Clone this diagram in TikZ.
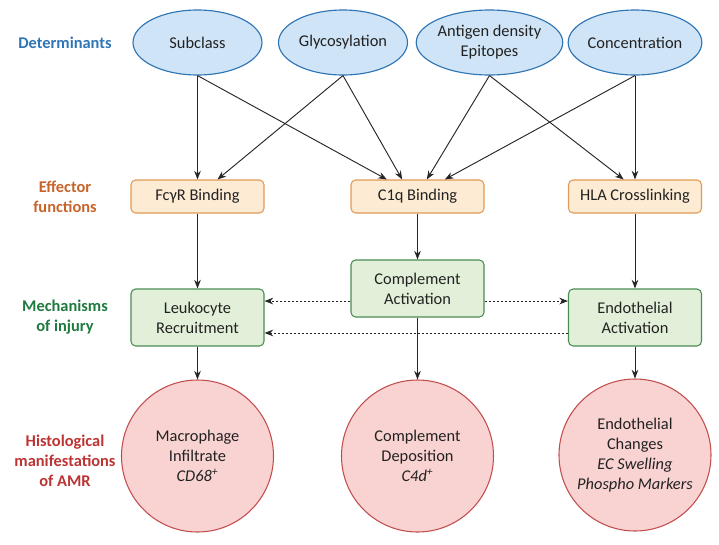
\documentclass[tikz,border=0pt]{standalone}
\usepackage{fontspec}
\setmainfont{Carlito}
\usetikzlibrary{shapes.geometric,arrows.meta}

\definecolor{detblue}{HTML}{2E75B6}
\definecolor{ellfill}{HTML}{CFE4F6}
\definecolor{effor}{HTML}{C8642A}
\definecolor{boxor}{HTML}{FDEBD3}
\definecolor{lineor}{HTML}{E09A55}
\definecolor{mechgr}{HTML}{1F7A40}
\definecolor{boxgr}{HTML}{E2F0D9}
\definecolor{linegr}{HTML}{4A8C53}
\definecolor{histrd}{HTML}{BC3333}
\definecolor{circrd}{HTML}{F9D3D1}
\definecolor{linerd}{HTML}{C24E4E}
\definecolor{txt}{HTML}{222222}

\tikzset{
  rowlabel/.style={font=\fontsize{12.3}{15}\selectfont\bfseries, align=center},
  determ/.style={ellipse, draw=detblue, fill=ellfill, line width=0.85pt, inner sep=0pt,
    minimum width=96.75pt, minimum height=48.75pt, align=center, text=txt,
    font=\fontsize{12.3}{15}\selectfont},
  effbox/.style={rectangle, rounded corners=3.5pt, draw=lineor, fill=boxor, line width=0.8pt,
    minimum width=99.75pt, minimum height=24.75pt, text=txt, font=\fontsize{12.3}{15}\selectfont},
  mechbox/.style={rectangle, rounded corners=3.5pt, draw=linegr, fill=boxgr, line width=0.8pt,
    minimum width=99.75pt, minimum height=42.75pt, align=center, text=txt,
    font=\fontsize{12.3}{15}\selectfont},
  histcirc/.style={circle, draw=linerd, fill=circrd, line width=0.8pt, minimum size=114pt,
    inner sep=0pt, align=center, text=txt, font=\fontsize{12.3}{15}\selectfont},
  arr/.style={-{Stealth[length=6.5pt,width=5pt]}, line width=0.7pt, draw=black!85},
  dotarr/.style={arr, dash pattern=on 1.5pt off 1.5pt}
}

\begin{document}
\begin{tikzpicture}[x=0.75pt,y=-0.75pt]
   \useasboundingbox (0,0) rectangle (719,544);

   \node[rowlabel, text=detblue] (lbldet) at (65,43) {Determinants};
   \node[rowlabel, text=effor] (lbleff) at (65,197) {Effector\\functions};
   \node[rowlabel, text=mechgr] (lblmech) at (65,317) {Mechanisms\\of injury};
   \node[rowlabel, text=histrd] (lblhist) at (65,461) {Histological\\manifestations\\of AMR};

   \node[determ] (subclass) at (197.5,42.5) {Subclass};
   \node[determ] (glyco) at (343,42.5) {Glycosylation};
   \node[determ] (antigen) at (489.5,42.5) {Antigen density\\Epitopes};
   \node[determ] (conc) at (635,42.5) {Concentration};

   \node[effbox] (fcr) at (197.5,196.5) {FcγR Binding};
   \node[effbox] (c1q) at (417.5,196.5) {C1q Binding};
   \node[effbox] (hla) at (635,196.5) {HLA Crosslinking};

   \node[mechbox] (leuk) at (197.5,317.5) {Leukocyte\\Recruitment};
   \node[mechbox] (compact) at (417.5,288.5) {Complement\\Activation};
   \node[mechbox] (endoact) at (635,317.5) {Endothelial\\Activation};

   \node[histcirc] (macro) at (197.5,456) {Macrophage\\Infiltrate\\\textit{CD68\textsuperscript{+}}};
   \node[histcirc] (compdep) at (417.5,456) {Complement\\Deposition\\\textit{C4d\textsuperscript{+}}};
   \node[histcirc] (endoch) at (635,455) {Endothelial\\Changes\\\textit{EC Swelling}\\\textit{Phospho Markers}};

   \draw[arr] (subclass.south) -- (subclass.south |- fcr.north);
   \draw[arr] (subclass.south) -- ([xshift=-23pt]c1q.north);
   \draw[arr] (glyco.south) -- ([xshift=15pt]fcr.north);
   \draw[arr] (glyco.south) -- ([xshift=-11.5pt]c1q.north);
   \draw[arr] (antigen.south) -- ([xshift=7pt]c1q.north);
   \draw[arr] (antigen.south) -- ([xshift=-8.5pt]hla.north);
   \draw[arr] (conc.south) -- ([xshift=20.5pt]c1q.north);
   \draw[arr] (conc.south) -- (hla.north);

   \draw[arr] (fcr) -- (leuk);
   \draw[arr] (c1q) -- (compact);
   \draw[arr] (hla) -- (endoact);

   \draw[dotarr] ([yshift=-9.4pt]compact.west) -- ([yshift=-9.4pt]compact.west -| leuk.east);
   \draw[dotarr] ([yshift=-9.4pt]compact.east) -- ([yshift=-9.4pt]compact.east -| endoact.west);
   \draw[dotarr] ([yshift=-11.6pt]endoact.west) -- ([yshift=-11.6pt]endoact.west -| leuk.east);

   \draw[arr] (leuk) -- (macro);
   \draw[arr] (compact) -- (compdep);
   \draw[arr] (endoact) -- (endoch);

\end{tikzpicture}
\end{document}
